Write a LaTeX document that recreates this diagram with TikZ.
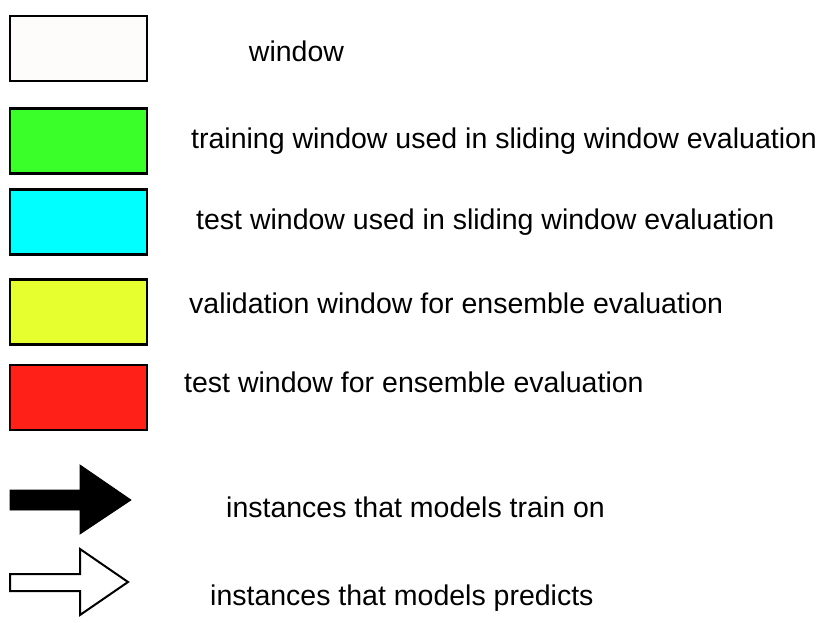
\documentclass[tikz,border=0pt]{standalone}
\usepackage{fontspec}
\setmainfont{Liberation Sans}
\definecolor{winWhite}{RGB}{253,252,250}
\definecolor{trainGreen}{RGB}{58,255,40}
\definecolor{testCyan}{RGB}{0,255,255}
\definecolor{validYellow}{RGB}{230,255,46}
\definecolor{ensRed}{RGB}{255,33,24}
\usetikzlibrary{positioning}

\begin{document}
\begin{tikzpicture}[x=1pt, y=-1pt,
    swatch/.style={rectangle, draw=black, line width=2.8pt,
                   minimum width=137pt, minimum height=65pt, inner sep=0pt},
    label/.style={font=\fontsize{28.5}{33}\selectfont, anchor=west, inner sep=0pt}
  ]
  \useasboundingbox (0,0) rectangle (822,623);

  % colour swatches
  \node[swatch, fill=winWhite]    (win)   at (78.5,48.5)  {};
  \node[swatch, fill=trainGreen]  (train) at (78.5,141)   {};
  \node[swatch, fill=testCyan]    (test)  at (78.5,222)   {};
  \node[swatch, fill=validYellow] (valid) at (78.5,312)   {};
  \node[swatch, fill=ensRed]      (ens)   at (78.5,397.5) {};

  \node[label, anchor=center] (winlbl) at (296.5,51) {window};
  \node[label] (trainlbl) at (191,141) {training window used in sliding window evaluation};
  \node[label] (testlbl)  at (196,222) {test window used in sliding window evaluation};
  \node[label] (validlbl) at (189,303) {validation window for ensemble evaluation};
  \node[label] (enslbl)   at (184,382) {test window for ensemble evaluation};

  % arrows
  \draw[fill=black, line width=0.8pt, line join=miter]
    (10,490) -- (80,490) -- (80,465) -- (131,500) -- (80,534) -- (80,510) -- (10,510) -- cycle;
  \draw[fill=white, line width=2pt, line join=miter]
    (10,574) -- (80,574) -- (80,549) -- (128,582) -- (80,615) -- (80,591) -- (10,591) -- cycle;

  \node[label] (trainon) at (226,507) {instances that models train on};
  \node[label] (predict) at (210,598) {instances that models predicts};
\end{tikzpicture}
\end{document}
